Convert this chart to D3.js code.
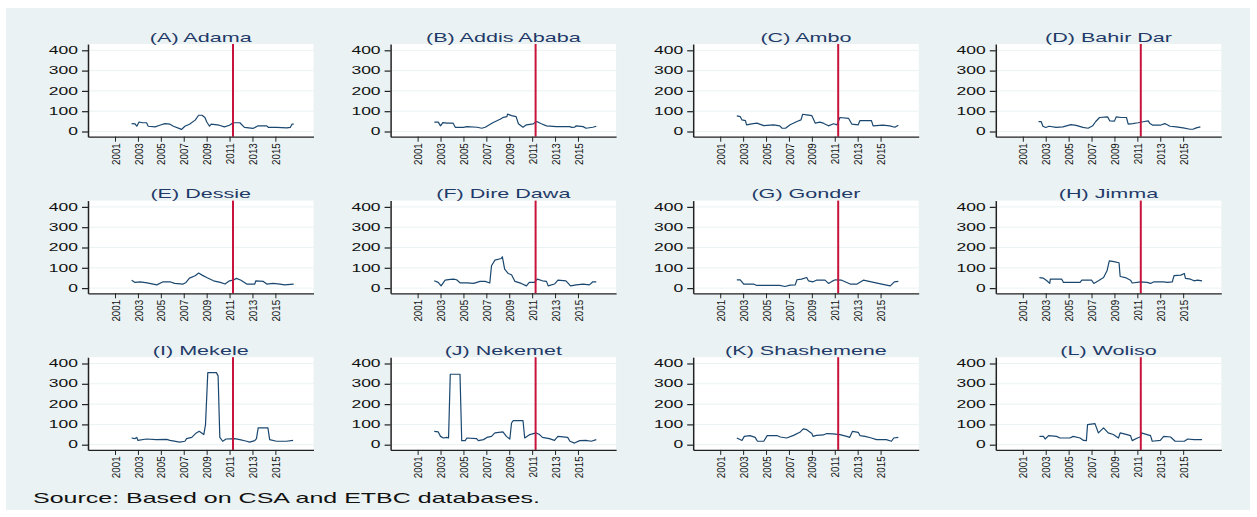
<!DOCTYPE html>
<html>
<head>
<meta charset="utf-8">
<script src="https://cdn.jsdelivr.net/npm/d3@7"></script>
<style>
  html, body { margin: 0; padding: 0; background: #ffffff; }
  svg { display: block; font-family: "Liberation Sans", Arial, Helvetica, sans-serif; }
</style>
</head>
<body>
<svg id="chart" width="1257" height="517"></svg>
<script>
// ---- data ---------------------------------------------------------------
const panelTitles = [
  "(A) Adama", "(B) Addis Ababa", "(C) Ambo", "(D) Bahir Dar",
  "(E) Dessie", "(F) Dire Dawa", "(G) Gonder", "(H) Jimma",
  "(I) Mekele", "(J) Nekemet", "(K) Shashemene", "(L) Woliso"
];
const yTicks = [0, 100, 200, 300, 400];
const xTicks = [2001, 2003, 2005, 2007, 2009, 2011, 2013, 2015];
const breakYear = 2011.3;
const sourceNote = "Source: Based on CSA and ETBC databases.";

// [decimal year, value]
const adama = [[2002.45,39],[2002.75,38],[2002.9,26],[2003.1,47],[2003.4,43],[2003.75,43],[2003.9,26],[2004.5,23],[2004.9,31],[2005.35,39],[2005.8,36],[2006.1,26],[2006.7,13],[2006.8,10],[2007.1,26],[2007.5,36],[2008.0,56],[2008.3,80],[2008.6,80],[2008.85,69],[2009.0,48],[2009.25,26],[2009.4,36],[2010.1,31],[2010.55,23],[2011.0,31],[2011.3,43],[2011.9,43],[2012.3,20],[2013.05,15],[2013.5,28],[2014.25,28],[2014.4,20],[2015.1,20],[2016.0,18],[2016.3,20],[2016.45,36],[2016.6,36]];
const addisAbaba = [[2002.46,46],[2002.8,46],[2003.0,28],[2003.2,44],[2003.55,41],[2004.1,41],[2004.3,20],[2005.0,20],[2005.3,24],[2006.2,21],[2006.6,16],[2006.9,21],[2007.6,44],[2008.2,60],[2008.5,70],[2008.8,73],[2008.85,86],[2009.2,78],[2009.6,73],[2009.8,38],[2010.2,21],[2010.5,33],[2011.1,38],[2011.4,49],[2011.8,38],[2012.25,28],[2013.1,24],[2014.3,24],[2014.45,20],[2014.7,21],[2014.85,28],[2015.45,24],[2015.7,16],[2016.3,21],[2016.6,26]];
const ambo = [[2002.45,77],[2002.75,73],[2002.9,57],[2003.2,54],[2003.3,33],[2003.75,38],[2004.2,41],[2004.8,29],[2005.65,33],[2006.2,28],[2006.4,16],[2006.7,16],[2007.1,33],[2007.7,49],[2008.05,57],[2008.2,85],[2008.55,82],[2009.0,78],[2009.3,41],[2009.7,46],[2010.0,41],[2010.45,28],[2010.9,38],[2011.2,33],[2011.45,69],[2012.2,65],[2012.5,36],[2013.05,33],[2013.2,54],[2014.2,54],[2014.35,28],[2015.2,31],[2015.8,28],[2016.25,21],[2016.55,31]];
const bahirDar = [[2002.37,49],[2002.6,49],[2002.75,26],[2003.0,20],[2003.3,26],[2003.9,20],[2004.5,23],[2005.2,34],[2005.65,30],[2006.25,20],[2006.7,16],[2007.1,28],[2007.35,48],[2007.7,69],[2008.4,72],[2008.6,52],[2009.0,51],[2009.15,72],[2009.6,69],[2010.05,69],[2010.2,36],[2010.6,39],[2011.05,43],[2011.5,48],[2011.95,52],[2012.1,39],[2012.35,31],[2013.0,31],[2013.4,39],[2013.85,26],[2014.4,23],[2015.0,18],[2015.6,11],[2015.85,11],[2016.15,18],[2016.5,23]];
const dessie = [[2002.45,39],[2002.75,28],[2003.2,31],[2003.8,26],[2004.65,16],[2005.2,31],[2005.8,31],[2006.2,23],[2006.95,20],[2007.2,28],[2007.5,49],[2008.0,61],[2008.3,74],[2008.6,64],[2009.0,52],[2009.6,36],[2010.2,28],[2010.6,20],[2011.0,36],[2011.3,39],[2011.6,48],[2012.0,39],[2012.5,20],[2013.2,20],[2013.3,36],[2013.95,33],[2014.25,20],[2014.8,23],[2015.4,20],[2015.8,16],[2016.6,20]];
const direDawa = [[2002.45,36],[2002.8,28],[2003.05,11],[2003.4,39],[2003.85,43],[2004.15,44],[2004.4,41],[2004.7,26],[2005.3,26],[2005.9,23],[2006.45,33],[2006.9,33],[2007.3,25],[2007.45,110],[2007.75,138],[2008.3,146],[2008.4,154],[2008.6,93],[2008.9,72],[2009.2,66],[2009.5,33],[2010.05,23],[2010.5,11],[2010.75,28],[2011.2,28],[2011.45,44],[2011.9,36],[2012.25,33],[2012.4,11],[2012.95,20],[2013.25,39],[2013.95,36],[2014.35,11],[2014.85,16],[2015.45,20],[2016.0,16],[2016.3,31],[2016.6,31]];
const gonder = [[2002.45,41],[2002.75,41],[2003.05,20],[2003.9,20],[2004.2,13],[2006.2,13],[2006.65,8],[2007.1,15],[2007.55,16],[2007.7,41],[2008.1,44],[2008.55,52],[2008.7,36],[2009.1,31],[2009.4,39],[2010.15,39],[2010.45,23],[2010.75,33],[2011.05,41],[2011.6,39],[2012.35,20],[2012.95,20],[2013.5,39],[2014.4,28],[2015.1,20],[2015.85,11],[2016.2,31],[2016.55,33]];
const jimma = [[2002.45,52],[2002.8,49],[2003.1,36],[2003.35,23],[2003.4,44],[2004.4,44],[2004.55,28],[2006.0,28],[2006.15,39],[2007.0,39],[2007.2,23],[2007.6,36],[2008.05,52],[2008.35,85],[2008.55,134],[2008.95,130],[2009.4,125],[2009.5,57],[2009.95,52],[2010.4,39],[2010.55,25],[2011.3,31],[2011.85,28],[2012.15,23],[2012.45,31],[2013.3,31],[2013.6,28],[2014.05,31],[2014.2,61],[2014.8,64],[2015.1,72],[2015.2,48],[2015.65,44],[2015.95,36],[2016.25,39],[2016.65,36]];
const mekele = [[2002.45,33],[2002.75,30],[2002.9,36],[2003.0,21],[2003.75,28],[2004.6,25],[2005.5,26],[2005.8,21],[2006.65,13],[2007.1,17],[2007.25,30],[2007.7,36],[2008.1,58],[2008.35,66],[2008.75,50],[2008.9,99],[2009.1,355],[2009.85,355],[2010.0,339],[2010.15,36],[2010.4,17],[2010.7,28],[2011.45,30],[2011.9,25],[2012.5,17],[2012.75,13],[2013.2,20],[2013.35,30],[2013.5,83],[2014.35,83],[2014.5,25],[2015.1,17],[2015.95,17],[2016.55,21]];
const nekemet = [[2002.45,66],[2002.8,63],[2003.0,41],[2003.25,33],[2003.55,36],[2003.7,33],[2003.85,347],[2004.7,347],[2004.85,20],[2005.15,20],[2005.3,33],[2006.15,30],[2006.3,20],[2006.75,25],[2007.05,36],[2007.45,41],[2007.75,58],[2008.45,63],[2008.75,41],[2009.05,28],[2009.2,107],[2009.35,119],[2010.2,119],[2010.35,33],[2010.8,50],[2011.35,58],[2011.65,50],[2011.9,36],[2012.5,30],[2012.95,21],[2013.25,41],[2014.1,36],[2014.3,17],[2014.7,8],[2015.15,20],[2015.7,21],[2016.15,17],[2016.6,25]];
const shashemene = [[2002.45,33],[2002.9,21],[2003.1,41],[2003.6,45],[2004.05,36],[2004.25,17],[2004.8,17],[2005.1,45],[2005.95,45],[2006.25,38],[2006.8,33],[2007.4,46],[2007.95,61],[2008.25,78],[2008.55,74],[2009.0,55],[2009.1,41],[2009.4,46],[2010.0,48],[2010.3,55],[2010.85,53],[2011.45,50],[2012.05,41],[2012.3,36],[2012.55,66],[2013.05,61],[2013.2,45],[2013.65,41],[2014.2,33],[2014.65,25],[2015.5,25],[2015.95,17],[2016.15,33],[2016.55,36]];
const woliso = [[2002.45,41],[2002.8,41],[2002.95,28],[2003.25,45],[2003.95,41],[2004.25,33],[2005.1,33],[2005.4,41],[2006.0,33],[2006.3,21],[2006.55,20],[2006.65,99],[2007.3,104],[2007.6,58],[2008.05,83],[2008.45,58],[2008.9,50],[2009.35,33],[2009.5,58],[2010.1,50],[2010.4,45],[2010.55,20],[2011.0,33],[2011.25,38],[2011.35,58],[2011.85,50],[2012.15,45],[2012.3,17],[2013.0,21],[2013.3,41],[2013.9,38],[2014.3,17],[2015.1,17],[2015.4,28],[2015.95,25],[2016.65,25]];

const series = [adama, addisAbaba, ambo, bahirDar, dessie, direDawa,
                gonder, jimma, mekele, nekemet, shashemene, woliso];

// ---- layout -------------------------------------------------------------
const svg = d3.select("#chart");
const colLeft = c => 88 + c * 302.6;
const rowTop = r => 44 + r * 156.6;
const pw = 225.5, ph = 92.7;
const textStretch = 1.66;   // wide horizontal lettering
const tickStretch = 1.75;

const x = d3.scaleLinear().domain([1998.64, 2018.33]).range([0, pw]);
const y = d3.scaleLinear().domain([-25.6, 431]).range([ph, 0]);

// graph region background
svg.append("rect")
  .attr("x", 6).attr("y", 8).attr("width", 1244).attr("height", 502)
  .attr("fill", "#eaf2f3");

const line = d3.line().x(d => x(d[0])).y(d => y(d[1]));

series.forEach((data, i) => {
  const c = i % 4, r = Math.floor(i / 4);
  const g = svg.append("g").attr("transform", `translate(${colLeft(c)},${rowTop(r)})`);

  // plot region
  g.append("rect").attr("width", pw).attr("height", ph).attr("fill", "#ffffff");

  // horizontal grid
  g.selectAll("line.grid").data(yTicks).join("line")
    .attr("class", "grid")
    .attr("x1", 0).attr("x2", pw)
    .attr("y1", d => y(d)).attr("y2", d => y(d))
    .attr("stroke", "#eaf2f3").attr("stroke-width", 1);

  // price series
  g.append("path").datum(data)
    .attr("d", line)
    .attr("fill", "none")
    .attr("stroke", "#1a476f")
    .attr("stroke-width", 1.2)
    .attr("stroke-linejoin", "round");

  // policy break
  g.append("line")
    .attr("x1", x(breakYear)).attr("x2", x(breakYear))
    .attr("y1", 0).attr("y2", ph)
    .attr("stroke", "#c8143c").attr("stroke-width", 2);

  // y axis
  const ya = g.append("g")
    .call(d3.axisLeft(y).tickValues(yTicks).tickSize(6).tickSizeOuter(0).tickPadding(3));
  ya.select(".domain").attr("stroke", "#222").attr("stroke-width", 1.5);
  ya.selectAll(".tick line").attr("stroke", "#222").attr("stroke-width", 1.2);
  ya.selectAll(".tick text")
    .attr("font-size", 10).attr("fill", "#111")
    .attr("font-family", null)
    .attr("x", -10 / tickStretch)
    .attr("transform", `scale(${tickStretch},1)`);

  // x axis
  const xa = g.append("g").attr("transform", `translate(0,${ph})`)
    .call(d3.axisBottom(x).tickValues(xTicks).tickFormat(d3.format("d"))
      .tickSize(5).tickSizeOuter(0));
  xa.select(".domain").attr("stroke", "#222").attr("stroke-width", 1.3);
  xa.selectAll(".tick line").attr("stroke", "#222").attr("stroke-width", 1);
  xa.selectAll(".tick text")
    .attr("font-size", 9.8).attr("fill", "#111")
    .attr("font-family", null)
    .attr("x", 0).attr("y", 0).attr("dy", "0.35em")
    .attr("text-anchor", "end")
    .attr("transform", "translate(0,6.5) scale(1.2,1) rotate(-90)");

  // panel title
  g.append("text")
    .attr("transform", `translate(${pw / 2},-2.5) scale(${textStretch},1)`)
    .attr("text-anchor", "middle")
    .attr("font-size", 13)
    .attr("fill", "#1f3a68")
    .text(panelTitles[i]);
});

// source note
svg.append("text")
  .attr("x", 33).attr("y", 503)
  .attr("font-size", 15)
  .attr("fill", "#111")
  .attr("textLength", 507)
  .attr("lengthAdjust", "spacingAndGlyphs")
  .text(sourceNote);
</script>
</body>
</html>
